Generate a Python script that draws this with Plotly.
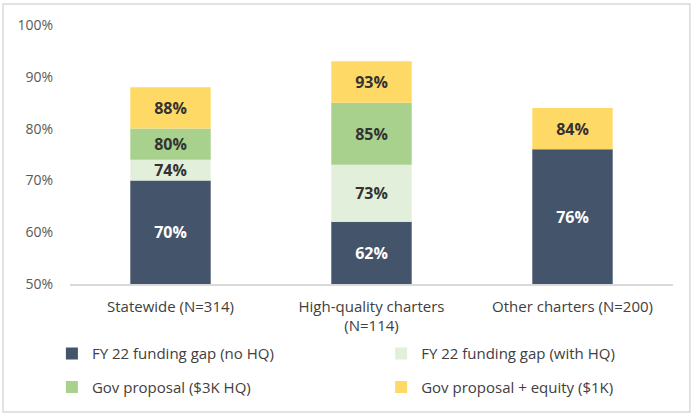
import plotly.graph_objects as go

categories = ["Statewide (N=314)", "High-quality charters<br>(N=114)", "Other charters (N=200)"]
series_names = ["FY 22 funding gap (no HQ)", "FY 22 funding gap (with HQ)",
                "Gov proposal ($3K HQ)", "Gov proposal + equity ($1K)"]
gap_no_hq = [70, 62, 76]
gap_with_hq = [74, 73, 76]
gov_3k_hq = [80, 85, 76]
gov_equity = [88, 93, 84]
y_ticks = [50, 60, 70, 80, 90, 100]
axis_floor = 50

colors = ["#44546A", "#E2EFDA", "#A9D18E", "#FFD966"]
text_colors = ["#FFFFFF", "#333333", "#333333", "#333333"]
legends = ["legend", "legend2", "legend3", "legend4"]

FONT = "Open Sans, Carlito, Calibri, sans-serif"

fig = go.Figure()
cumulative = [gap_no_hq, gap_with_hq, gov_3k_hq, gov_equity]
prev = [axis_floor] * len(categories)
for name, vals, col, tcol, lg in zip(series_names, cumulative, colors, text_colors, legends):
    inc = [v - p for v, p in zip(vals, prev)]
    txt = [f"{v}%" if d > 0 else "" for v, d in zip(vals, inc)]
    fig.add_trace(go.Bar(
        x=categories, y=inc, base=prev, name=name,
        marker=dict(color=col, line=dict(width=0)),
        text=txt, textposition="inside", insidetextanchor="middle",
        textfont=dict(family=FONT, size=16, color=tcol, weight="bold"),
        constraintext="none", legend=lg, showlegend=True, hoverinfo="skip",
    ))
    prev = vals

leg_font = dict(family=FONT, size=15, color="#404040")
col_x = [-0.03, 0.516]
row_y = [-0.206, -0.335]


def leg(x, y):
    return dict(orientation="h", x=x, y=y, xanchor="left", yanchor="top",
                font=leg_font, bgcolor="rgba(0,0,0,0)", itemwidth=30)


fig.update_layout(
    width=700, height=418,
    showlegend=True,
    barmode="overlay", bargap=0.6,
    plot_bgcolor="white", paper_bgcolor="white",
    margin=dict(l=70, r=27, t=25, b=134, autoexpand=False),
    font=dict(family=FONT, size=13, color="#404040"),
    legend=leg(col_x[0], row_y[0]),
    legend2=leg(col_x[1], row_y[0]),
    legend3=leg(col_x[0], row_y[1]),
    legend4=leg(col_x[1], row_y[1]),
    shapes=[dict(type="rect", xref="paper", yref="paper",
                 x0=-0.111, x1=1.028, y0=-0.494, y1=1.081,
                 line=dict(color="#D9D9D9", width=1.5), fillcolor="rgba(0,0,0,0)",
                 layer="below")],
)
fig.update_yaxes(range=[50, 100], tickvals=y_ticks, ticktext=[f"{t}%" for t in y_ticks],
                 showgrid=False, zeroline=False, showline=False,
                 tickfont=dict(family=FONT, size=14, color="#595959"), ticks="", ticklen=0,
                 ticklabelstandoff=16)
fig.update_xaxes(showline=True, linecolor="#D9D9D9", linewidth=1.5, showgrid=False,
                 tickfont=dict(family=FONT, size=15, color="#404040"), ticks="",
                 ticklabelstandoff=8)

fig.write_html("out.html", config={"displayModeBar": False},
               post_script="document.body.style.margin='0';document.body.style.overflow='hidden';")
